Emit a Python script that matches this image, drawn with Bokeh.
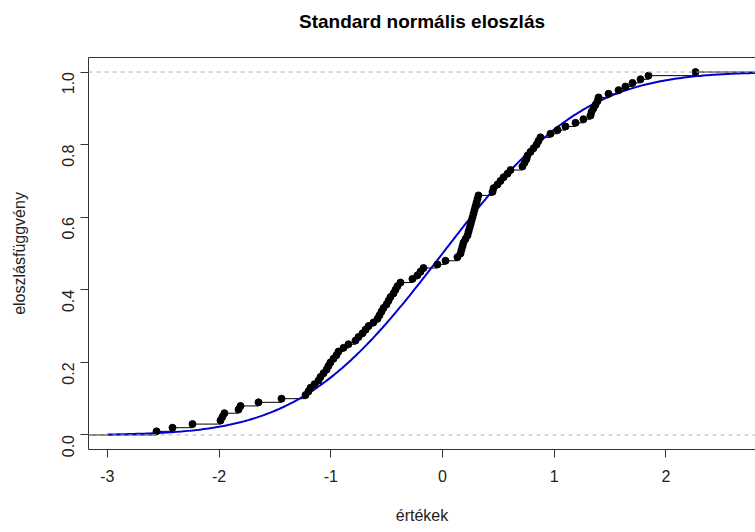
import math
import numpy as np
from bokeh.plotting import figure
from bokeh.models import Span, LinearAxis, FixedTicker, Range1d
from bokeh.embed import file_html
from bokeh.resources import INLINE

# sorted sample values (100 points)
sample = [
    -2.560, -2.417, -2.238, -1.987, -1.970, -1.952, -1.826, -1.808, -1.647, -1.441,
    -1.226, -1.200, -1.182, -1.146, -1.110, -1.092, -1.065, -1.038, -1.021, -1.003,
    -0.976, -0.949, -0.931, -0.886, -0.842, -0.779, -0.752, -0.716, -0.689, -0.662,
    -0.618, -0.582, -0.564, -0.546, -0.528, -0.501, -0.483, -0.466, -0.439, -0.421,
    -0.403, -0.376, -0.269, -0.224, -0.197, -0.170, -0.045, 0.027, 0.134, 0.161,
    0.170, 0.179, 0.188, 0.206, 0.224, 0.233, 0.242, 0.251, 0.260, 0.269,
    0.278, 0.286, 0.295, 0.304, 0.313, 0.322, 0.448, 0.457, 0.492, 0.519,
    0.546, 0.582, 0.609, 0.716, 0.734, 0.752, 0.761, 0.788, 0.815, 0.842,
    0.859, 0.877, 0.967, 1.030, 1.101, 1.191, 1.262, 1.325, 1.334, 1.352,
    1.370, 1.388, 1.397, 1.486, 1.576, 1.638, 1.701, 1.773, 1.844, 2.265,
]
x_ticks = [-3, -2, -1, 0, 1, 2]
x_tick_labels = ["-3", "-2", "-1", "0", "1", "2"]
y_ticks = [0.0, 0.2, 0.4, 0.6, 0.8, 1.0]
y_tick_labels = ["0.0", "0.2", "0.4", "0.6", "0.8", "1.0"]
title_text = "Standard normális eloszlás"
x_label = "értékek"
y_label = "eloszlásfüggvény"

FONT = "Liberation Sans"
n = len(sample)
ecdf_y = [(i + 1) / n for i in range(n)]

x0, x1 = -3.169, 2.802
p = figure(width=755, height=532, output_backend="svg", toolbar_location=None,
           x_range=Range1d(x0, x1), y_range=Range1d(-0.04, 1.04),
           min_border_left=88, min_border_right=0, min_border_top=57,
           min_border_bottom=83, background_fill_color="white",
           border_fill_color="white", outline_line_color=None)
p.grid.visible = False

# dashed 0/1 reference lines
for loc in (0.0, 1.0):
    p.add_layout(Span(location=loc, dimension="width", line_color="#B3B3B3",
                      line_dash="4 4", line_width=1))

# ecdf horizontal steps
seg_x0 = [x0] + sample
seg_x1 = sample + [x1]
seg_y = [0.0] + ecdf_y
p.segment(x0=seg_x0, y0=seg_y, x1=seg_x1, y1=seg_y, line_color="#000000", line_width=1)

# theoretical normal CDF
xs = np.linspace(-3, 3, 301)
ys = [0.5 * (1 + math.erf(v / math.sqrt(2))) for v in xs]
p.line(xs, ys, line_color="#0000D0", line_width=2)

p.scatter(sample, ecdf_y, size=7, fill_color="#000000", line_color="#000000")

# axes
xa = p.xaxis[0]
xa.ticker = FixedTicker(ticks=x_ticks)
xa.major_label_overrides = {v: s for v, s in zip(x_ticks, x_tick_labels)}
ya = p.yaxis[0]
ya.ticker = FixedTicker(ticks=y_ticks)
ya.major_label_overrides = {v: s for v, s in zip(y_ticks, y_tick_labels)}
ya.major_label_orientation = math.pi / 2
for ax in (xa, ya):
    ax.axis_line_color = "#333333"
    ax.major_tick_line_color = "#333333"
    ax.major_tick_out = 8
    ax.major_tick_in = 0
    ax.minor_tick_line_color = None
    ax.major_label_text_font = FONT
    ax.major_label_text_font_size = "16px"
    ax.major_label_text_color = "#222222"
    ax.axis_label_text_font = FONT
    ax.axis_label_text_font_size = "16px"
    ax.axis_label_text_font_style = "normal"
    ax.axis_label_text_color = "#222222"
xa.axis_label = x_label
ya.axis_label = y_label
xa.major_label_standoff = 12
xa.axis_label_standoff = 22
ya.major_label_standoff = 12
ya.axis_label_standoff = 26

# top border line, carrying the chart title as its label
top = LinearAxis(ticker=FixedTicker(ticks=[]), axis_line_color="#333333",
                 major_tick_line_color=None, minor_tick_line_color=None,
                 major_tick_out=0, major_label_standoff=0,
                 major_label_text_font_size="0px",
                 axis_label=title_text, axis_label_standoff=26,
                 axis_label_text_font=FONT, axis_label_text_font_size="19px",
                 axis_label_text_font_style="bold", axis_label_text_color="#000000")
p.add_layout(top, "above")

open("out.html", "w").write(file_html(p, INLINE))
